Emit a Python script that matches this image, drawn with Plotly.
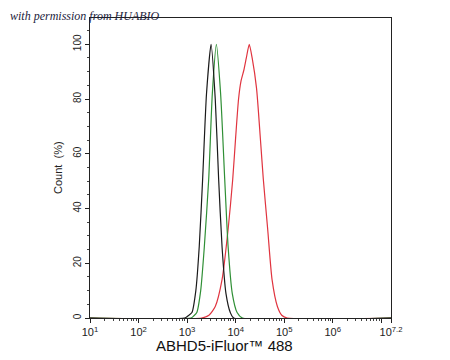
import plotly.graph_objects as go

# log10 of fluorescence intensity and count (%)
black_x = [1.0, 2.95, 3.02, 3.10, 3.18, 3.25, 3.32, 3.40, 3.494, 3.58, 3.65, 3.72, 3.80, 3.89, 3.96, 7.2]
black_y = [0, 0, 0.8, 2, 10, 26, 50.7, 82, 100, 80, 50.7, 26, 9, 2, 0, 0]

green_x = [1.0, 3.08, 3.14, 3.20, 3.28, 3.355, 3.445, 3.52, 3.603, 3.69, 3.775, 3.845, 3.93, 4.03, 4.14, 7.2]
green_y = [0, 0, 0.8, 2, 10, 26, 50.7, 82, 100, 82, 50.7, 26, 9, 2, 0, 0]

red_x = [1.0, 3.30, 3.45, 3.58, 3.72, 3.845, 3.94, 4.00, 4.06, 4.11, 4.17, 4.22, 4.28, 4.34, 4.43, 4.51, 4.57, 4.66, 4.75, 4.86, 4.95, 5.06, 7.2]
red_y = [0, 0, 1, 4.2, 14, 32.4, 50.7, 66, 80, 86.5, 90.6, 95, 100, 95, 84, 65.4, 50.7, 32.4, 14, 4.2, 1, 0, 0]

x_tick_exp = [1, 2, 3, 4, 5, 6, 7, 7.2]
x_tick_text = ["10<sup>1</sup>", "10<sup>2</sup>", "10<sup>3</sup>", "10<sup>4</sup>",
               "10<sup>5</sup>", "10<sup>6</sup>", "", "10<sup>7.2</sup>"]
y_tick_vals = [0, 20, 40, 60, 80, 100, 110]
y_tick_text = ["0", "20", "40", "60", "80", "100", "110"]

fig = go.Figure()
for xs, ys, col in [(red_x, red_y, "#e0343f"), (green_x, green_y, "#2f8f35"), (black_x, black_y, "#1a1a1a")]:
    fig.add_trace(go.Scatter(
        x=[10 ** v for v in xs], y=ys, mode="lines",
        line=dict(color=col, width=1.2, shape="spline", smoothing=0.6),
        showlegend=False, hoverinfo="skip"))

minor_x = [m * 10 ** d for d in range(1, 8) for m in range(2, 10) if m * 10 ** d < 10 ** 7.2]

fig.update_xaxes(
    type="log", range=[1, 7.2],
    tickvals=[10 ** v for v in x_tick_exp], ticktext=x_tick_text, tickangle=0,
    ticks="outside", ticklen=4, tickcolor="#222", tickwidth=1,
    showline=True, linecolor="#222", linewidth=1.2, mirror=True,
    showgrid=False, zeroline=False,
    tickfont=dict(family="Liberation Sans, Arial", size=11, color="#222"),
    minor=dict(tickvals=minor_x, ticks="outside", ticklen=2, tickcolor="#444", showgrid=False),
)
fig.update_yaxes(
    range=[0, 109.6],
    tickvals=y_tick_vals, ticktext=y_tick_text, tickangle=-90,
    ticks="outside", ticklen=4, tickcolor="#222", tickwidth=1,
    showline=True, linecolor="#222", linewidth=1.2, mirror=True,
    showgrid=False, zeroline=False,
    tickfont=dict(family="Liberation Sans, Arial", size=10, color="#222"),
    minor=dict(dtick=5, ticks="outside", ticklen=2, tickcolor="#444", showgrid=False),
)

fig.update_layout(
    width=450, height=360,
    margin=dict(l=90, r=59, t=18, b=42),
    paper_bgcolor="white", plot_bgcolor="white",
    annotations=[
        dict(text="ABHD5-iFluor™ 488", xref="paper", yref="paper",
             x=(224 - 90) / 301, y=-(345 - 318) / 300, xanchor="center", yanchor="middle",
             showarrow=False, font=dict(family="Liberation Sans, Arial", size=15, color="#111")),
        dict(text="Count  (%)", xref="paper", yref="paper",
             x=-(90 - 58) / 301, y=0.5, xanchor="center", yanchor="middle", textangle=-90,
             showarrow=False, font=dict(family="Liberation Sans, Arial", size=11, color="#222")),
        dict(text="<i>with permission from HUABIO</i>", xref="paper", yref="paper",
             x=-(90 - 8) / 301, y=1 + (18 - 16) / 300, xanchor="left", yanchor="middle",
             showarrow=False, font=dict(family="Liberation Serif, serif", size=12, color="#1c1c3c")),
    ],
)

fig.write_html("out.html")
